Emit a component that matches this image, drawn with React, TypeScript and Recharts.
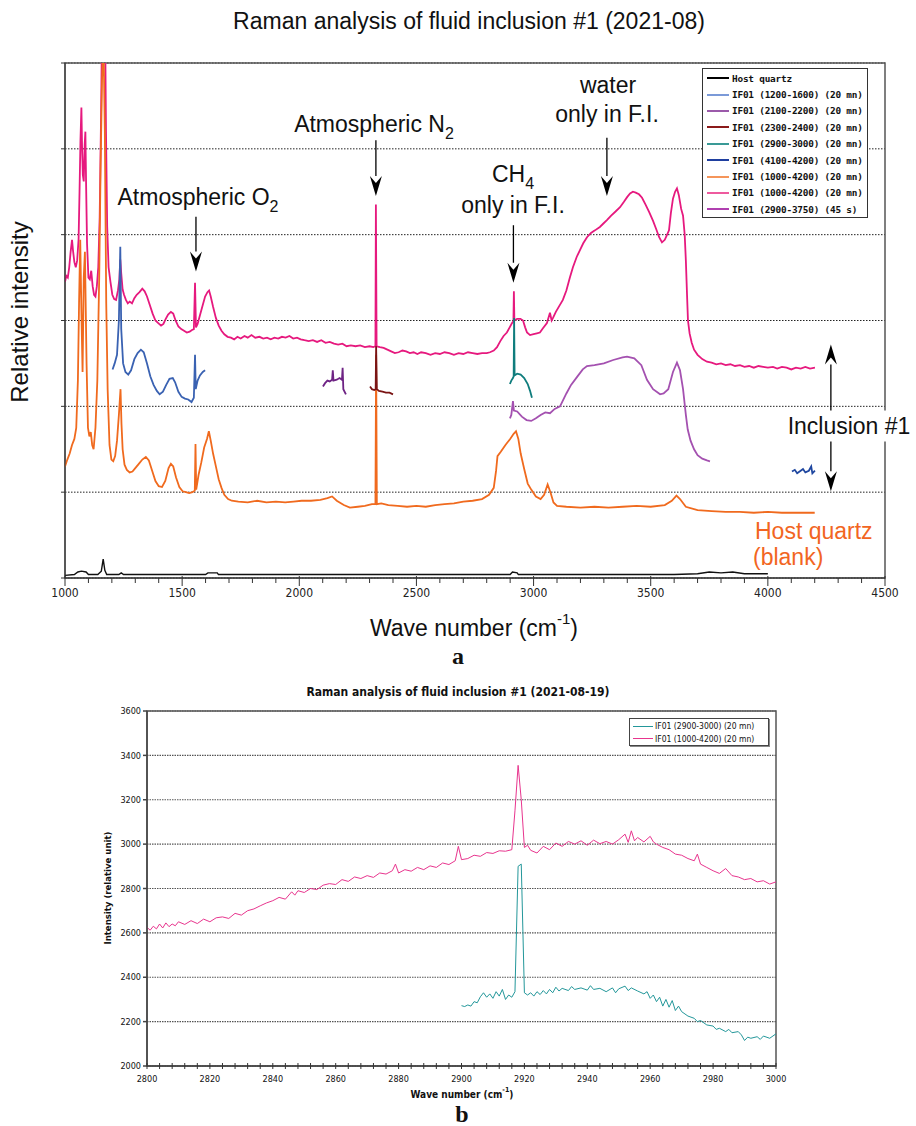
import React from 'react';
import { LineChart, Line, XAxis, YAxis, CartesianGrid, ReferenceLine, ReferenceArea } from 'recharts';

type P = [number, number];

// ---------- Chart a (relative intensity, arbitrary offset units) ----------
const hostQuartzA: P[] = [
  [1000, 0.03], [1040, 0.04], [1055, 0.07], [1070, 0.08], [1090, 0.07], [1100, 0.04], [1140, 0.04], [1155, 0.08],
  [1163, 0.22], [1170, 0.09], [1178, 0.04], [1230, 0.04], [1240, 0.06], [1250, 0.04], [1600, 0.04], [1610, 0.06],
  [1650, 0.06], [1655, 0.04], [2900, 0.04], [2910, 0.07], [2930, 0.06], [2935, 0.04], [3600, 0.04], [3700, 0.05],
  [3750, 0.07], [3800, 0.06], [3850, 0.07], [3900, 0.05], [4000, 0.05],
];

const if01_1200_1600: P[] = [
  [1203, 2.43], [1212, 2.5], [1222, 2.6], [1230, 3.0], [1236, 3.86], [1240, 2.9], [1248, 2.5], [1258, 2.4], [1270, 2.37],
  [1282, 2.42], [1296, 2.55], [1310, 2.62], [1324, 2.66], [1336, 2.63], [1350, 2.5], [1364, 2.35], [1378, 2.25],
  [1392, 2.18], [1404, 2.14], [1418, 2.17], [1432, 2.25], [1446, 2.32], [1460, 2.33], [1470, 2.28], [1484, 2.17],
  [1498, 2.11], [1512, 2.09], [1526, 2.08], [1540, 2.05], [1550, 2.1], [1555, 2.6], [1558, 2.2], [1566, 2.3],
  [1576, 2.36], [1588, 2.4], [1598, 2.42],
];

const if01_2100_2200: P[] = [
  [2101, 2.23], [2110, 2.27], [2120, 2.3], [2130, 2.29], [2140, 2.31], [2143, 2.42], [2146, 2.3], [2160, 2.31],
  [2172, 2.33], [2182, 2.31], [2185, 2.45], [2188, 2.2], [2199, 2.14],
];

const if01_2300_2400: P[] = [
  [2302, 2.23], [2310, 2.2], [2320, 2.19], [2326, 2.2], [2328, 2.7], [2331, 2.2], [2340, 2.18], [2355, 2.17],
  [2370, 2.16], [2385, 2.16], [2400, 2.14],
];

const if01_2900_3000: P[] = [
  [2899, 2.26], [2905, 2.3], [2912, 2.33], [2915, 2.35], [2917, 3.03], [2919, 2.36], [2930, 2.38], [2945, 2.37],
  [2960, 2.33], [2975, 2.26], [2985, 2.18], [2993, 2.1],
];

const if01_4100_4200: P[] = [
  [4103, 1.24], [4115, 1.26], [4125, 1.22], [4140, 1.25], [4150, 1.27], [4160, 1.23], [4175, 1.25], [4185, 1.3],
  [4190, 1.22], [4201, 1.25],
];

const hostBlankA: P[] = [
  [1000, 1.3], [1010, 1.38], [1020, 1.45], [1030, 1.55], [1040, 1.62], [1048, 1.75], [1055, 2.3], [1060, 3.2],
  [1065, 3.94], [1070, 3.1], [1075, 2.4], [1080, 3.5], [1085, 3.8], [1092, 2.5], [1098, 1.75], [1104, 1.65],
  [1110, 1.7], [1116, 1.55], [1122, 1.5], [1130, 1.75], [1138, 2.3], [1146, 3.5], [1152, 4.8], [1158, 5.8],
  [1164, 6.3], [1170, 5.2], [1176, 3.2], [1182, 2.2], [1190, 1.55], [1198, 1.38], [1206, 1.36], [1214, 1.42],
  [1222, 1.6], [1230, 1.9], [1237, 2.2], [1241, 1.8], [1246, 1.5], [1254, 1.32], [1264, 1.26], [1276, 1.23],
  [1288, 1.24], [1300, 1.28], [1315, 1.33], [1330, 1.38], [1345, 1.41], [1358, 1.37], [1372, 1.25], [1386, 1.13],
  [1400, 1.07], [1414, 1.06], [1428, 1.13], [1442, 1.28], [1452, 1.33], [1462, 1.3], [1474, 1.17], [1488, 1.06],
  [1502, 1.01], [1516, 1.0], [1530, 0.99], [1544, 1.0], [1554, 1.02], [1557, 1.56], [1560, 1.03], [1570, 1.2],
  [1582, 1.35], [1594, 1.52], [1606, 1.62], [1614, 1.71], [1622, 1.6], [1632, 1.45], [1644, 1.3], [1656, 1.15],
  [1668, 1.05], [1680, 0.97], [1696, 0.92], [1712, 0.9], [1740, 0.89], [1780, 0.88], [1820, 0.9], [1860, 0.88],
  [1900, 0.89], [1940, 0.88], [1975, 0.89], [2010, 0.9], [2050, 0.9], [2090, 0.91], [2120, 0.93], [2140, 0.95],
  [2160, 0.9], [2190, 0.85], [2216, 0.82], [2250, 0.83], [2280, 0.84], [2310, 0.86], [2325, 0.86], [2328, 2.6],
  [2331, 0.86], [2350, 0.87], [2380, 0.85], [2420, 0.84], [2460, 0.83], [2500, 0.84], [2540, 0.83], [2580, 0.85],
  [2620, 0.86], [2660, 0.87], [2700, 0.89], [2740, 0.9], [2780, 0.92], [2810, 0.97], [2830, 1.05], [2840, 1.25],
  [2846, 1.42], [2860, 1.47], [2880, 1.55], [2900, 1.62], [2915, 1.68], [2925, 1.71], [2935, 1.62], [2945, 1.45],
  [2960, 1.27], [2975, 1.1], [2990, 1.03], [3010, 0.95], [3030, 0.92], [3045, 0.97], [3060, 1.09], [3072, 1.0],
  [3085, 0.88], [3100, 0.84], [3140, 0.83], [3200, 0.82], [3260, 0.83], [3320, 0.82], [3380, 0.83], [3440, 0.84],
  [3500, 0.83], [3560, 0.85], [3590, 0.9], [3610, 0.96], [3625, 0.92], [3650, 0.83], [3700, 0.79], [3760, 0.78],
  [3820, 0.77], [3880, 0.77], [3940, 0.76], [4000, 0.77], [4060, 0.76], [4120, 0.76], [4200, 0.76],
];

const if01_1000_4200: P[] = [
  [1000, 3.45], [1006, 3.52], [1012, 3.5], [1018, 3.62], [1024, 3.8], [1030, 3.94], [1034, 3.82], [1040, 3.68],
  [1046, 3.62], [1052, 3.7], [1058, 3.95], [1062, 4.5], [1066, 5.1], [1070, 5.48], [1073, 5.0], [1076, 4.7],
  [1080, 4.62], [1084, 5.05], [1087, 5.2], [1090, 4.6], [1094, 3.9], [1100, 3.5], [1106, 3.48], [1112, 3.58],
  [1118, 3.4], [1124, 3.3], [1130, 3.28], [1136, 3.4], [1142, 3.62], [1148, 4.2], [1154, 5.4], [1158, 6.4],
  [1164, 7.5], [1170, 6.8], [1175, 5.2], [1180, 4.1], [1186, 3.62], [1194, 3.45], [1202, 3.3], [1210, 3.25],
  [1218, 3.24], [1226, 3.35], [1232, 3.48], [1236, 3.71], [1240, 3.55], [1246, 3.36], [1252, 3.3], [1260, 3.24],
  [1268, 3.2], [1276, 3.22], [1286, 3.2], [1296, 3.26], [1306, 3.3], [1318, 3.33], [1330, 3.37], [1340, 3.34],
  [1350, 3.28], [1362, 3.18], [1374, 3.08], [1386, 3.0], [1398, 2.97], [1410, 2.94], [1420, 2.96], [1430, 3.02],
  [1440, 3.07], [1452, 3.1], [1462, 3.08], [1472, 3.0], [1484, 2.93], [1496, 2.9], [1508, 2.88], [1520, 2.86],
  [1532, 2.87], [1542, 2.89], [1550, 2.9], [1555, 3.44], [1559, 2.92], [1566, 2.96], [1576, 3.06], [1588, 3.18],
  [1598, 3.28], [1608, 3.33], [1615, 3.35], [1622, 3.28], [1632, 3.16], [1644, 3.03], [1656, 2.94], [1668, 2.88],
  [1680, 2.84], [1694, 2.81], [1708, 2.8], [1722, 2.78], [1736, 2.81], [1750, 2.79], [1766, 2.82], [1780, 2.8],
  [1796, 2.83], [1812, 2.8], [1830, 2.81], [1846, 2.79], [1862, 2.8], [1878, 2.78], [1894, 2.8], [1910, 2.79],
  [1926, 2.81], [1942, 2.8], [1958, 2.82], [1974, 2.79], [1990, 2.8], [2006, 2.78], [2022, 2.77], [2040, 2.76],
  [2058, 2.77], [2076, 2.75], [2094, 2.77], [2112, 2.74], [2130, 2.75], [2148, 2.73], [2166, 2.72], [2184, 2.73],
  [2202, 2.7], [2220, 2.71], [2240, 2.7], [2260, 2.71], [2280, 2.69], [2300, 2.7], [2316, 2.69], [2325, 2.7],
  [2327, 4.35], [2330, 2.7], [2344, 2.69], [2360, 2.68], [2376, 2.66], [2392, 2.64], [2408, 2.62], [2424, 2.63],
  [2440, 2.65], [2456, 2.64], [2472, 2.62], [2488, 2.63], [2504, 2.61], [2520, 2.63], [2540, 2.62], [2560, 2.6],
  [2580, 2.62], [2600, 2.61], [2620, 2.63], [2640, 2.62], [2660, 2.6], [2680, 2.62], [2700, 2.61], [2720, 2.63],
  [2740, 2.62], [2760, 2.61], [2780, 2.62], [2800, 2.62], [2814, 2.63], [2830, 2.65], [2844, 2.69], [2858, 2.76],
  [2872, 2.82], [2886, 2.86], [2898, 2.92], [2908, 2.97], [2914, 2.99], [2916, 3.34], [2918, 3.0], [2930, 3.02],
  [2944, 3.02], [2955, 3.0], [2964, 2.92], [2972, 2.86], [2985, 2.83], [3000, 2.84], [3014, 2.85], [3027, 2.86],
  [3040, 2.91], [3057, 2.97], [3070, 3.09], [3077, 3.0], [3083, 3.03], [3095, 3.1], [3110, 3.17], [3125, 3.24],
  [3140, 3.35], [3155, 3.5], [3168, 3.62], [3184, 3.74], [3198, 3.82], [3212, 3.9], [3228, 3.97], [3245, 4.02],
  [3262, 4.05], [3283, 4.09], [3298, 4.13], [3313, 4.17], [3330, 4.22], [3350, 4.27], [3369, 4.32], [3385, 4.38],
  [3400, 4.44], [3412, 4.48], [3424, 4.5], [3436, 4.49], [3450, 4.47], [3463, 4.43], [3478, 4.35], [3494, 4.26],
  [3510, 4.16], [3524, 4.06], [3536, 3.97], [3548, 3.91], [3560, 3.94], [3570, 4.0], [3578, 4.05], [3586, 4.25],
  [3595, 4.42], [3604, 4.5], [3612, 4.54], [3620, 4.46], [3630, 4.3], [3638, 4.22], [3645, 4.0], [3650, 3.7],
  [3655, 3.3], [3659, 3.0], [3666, 2.85], [3675, 2.74], [3685, 2.66], [3700, 2.6], [3720, 2.55], [3740, 2.52],
  [3760, 2.51], [3780, 2.49], [3800, 2.5], [3820, 2.48], [3840, 2.49], [3860, 2.47], [3881, 2.48], [3900, 2.46],
  [3920, 2.47], [3940, 2.45], [3960, 2.47], [3980, 2.46], [4000, 2.45], [4022, 2.46], [4040, 2.44], [4060, 2.46],
  [4080, 2.45], [4100, 2.43], [4120, 2.45], [4140, 2.44], [4160, 2.46], [4180, 2.44], [4201, 2.45],
];

const if01_2900_3750: P[] = [
  [2899, 1.86], [2905, 1.9], [2912, 2.06], [2916, 1.95], [2930, 1.94], [2950, 1.88], [2970, 1.84], [2990, 1.83],
  [3010, 1.86], [3030, 1.9], [3050, 1.93], [3070, 1.92], [3090, 1.97], [3113, 2.0], [3140, 2.15], [3160, 2.25],
  [3185, 2.34], [3210, 2.43], [3228, 2.47], [3260, 2.48], [3300, 2.5], [3340, 2.54], [3380, 2.57], [3399, 2.58],
  [3430, 2.56], [3460, 2.48], [3484, 2.31], [3510, 2.2], [3540, 2.14], [3555, 2.15], [3575, 2.2], [3595, 2.4],
  [3612, 2.51], [3625, 2.42], [3638, 2.2], [3650, 1.9], [3658, 1.73], [3670, 1.6], [3685, 1.5], [3700, 1.43],
  [3720, 1.39], [3740, 1.37], [3753, 1.36],
];

const majorTicksA = [1000, 1500, 2000, 2500, 3000, 3500, 4000, 4500];
const gridA = [0, 1, 2, 3, 4, 5, 6];

// ---------- Chart b ----------
const if01_1000_4200_b: P[] = [
  [2800, 2625], [2801, 2612], [2802, 2630], [2803, 2618], [2804, 2640], [2805, 2622], [2806, 2645], [2807, 2628],
  [2808, 2640], [2809, 2632], [2810, 2650], [2812, 2638], [2814, 2655], [2816, 2642], [2818, 2662], [2820, 2650],
  [2822, 2668], [2824, 2672], [2826, 2665], [2828, 2688], [2830, 2680], [2832, 2700], [2834, 2708], [2836, 2722],
  [2838, 2735], [2840, 2745], [2842, 2760], [2844, 2752], [2846, 2785], [2847, 2770], [2848, 2790], [2850, 2782],
  [2852, 2800], [2854, 2795], [2856, 2815], [2858, 2822], [2860, 2818], [2862, 2840], [2864, 2832], [2866, 2852],
  [2868, 2845], [2870, 2858], [2872, 2850], [2874, 2870], [2876, 2865], [2878, 2880], [2879, 2910], [2880, 2870],
  [2882, 2885], [2884, 2878], [2886, 2895], [2888, 2885], [2890, 2902], [2892, 2895], [2894, 2915], [2896, 2908],
  [2898, 2925], [2899, 2990], [2900, 2930], [2902, 2935], [2904, 2950], [2906, 2945], [2908, 2962], [2910, 2958],
  [2912, 2970], [2914, 2968], [2916, 2975], [2917, 3150], [2918, 3355], [2919, 3200], [2920, 2985], [2921, 2995],
  [2922, 2972], [2924, 2960], [2926, 2990], [2928, 2975], [2930, 3005], [2932, 2990], [2934, 3012], [2936, 3000],
  [2938, 3015], [2940, 2995], [2942, 3018], [2944, 3002], [2946, 3012], [2948, 3000], [2950, 3020], [2952, 3045],
  [2953, 3008], [2954, 3060], [2955, 3015], [2956, 3030], [2958, 3010], [2960, 3035], [2961, 3010], [2962, 3000],
  [2964, 2985], [2966, 2975], [2968, 2955], [2970, 2950], [2972, 2935], [2974, 2925], [2975, 2955], [2976, 2910],
  [2978, 2895], [2980, 2880], [2982, 2868], [2984, 2890], [2986, 2858], [2988, 2852], [2990, 2840], [2992, 2845],
  [2994, 2830], [2996, 2835], [2998, 2820], [3000, 2830],
];

const if01_2900_3000_b: P[] = [
  [2900, 2272], [2901, 2268], [2902, 2275], [2903, 2270], [2904, 2290], [2905, 2285], [2906, 2312], [2907, 2330],
  [2908, 2310], [2909, 2325], [2910, 2305], [2911, 2335], [2912, 2315], [2913, 2345], [2914, 2300], [2915, 2320],
  [2916, 2310], [2917, 2335], [2918, 2900], [2919, 2910], [2920, 2330], [2921, 2320], [2922, 2330], [2923, 2315],
  [2924, 2335], [2925, 2322], [2926, 2340], [2927, 2325], [2928, 2345], [2929, 2330], [2930, 2355], [2931, 2338],
  [2932, 2350], [2934, 2340], [2935, 2358], [2936, 2345], [2938, 2352], [2940, 2342], [2941, 2362], [2942, 2345],
  [2944, 2350], [2946, 2335], [2948, 2352], [2949, 2330], [2950, 2348], [2952, 2360], [2953, 2340], [2954, 2352],
  [2956, 2338], [2958, 2325], [2959, 2335], [2960, 2305], [2961, 2320], [2962, 2290], [2963, 2310], [2964, 2270],
  [2965, 2300], [2966, 2265], [2967, 2295], [2968, 2250], [2969, 2270], [2970, 2245], [2972, 2225], [2974, 2215],
  [2975, 2200], [2976, 2205], [2978, 2185], [2980, 2180], [2981, 2165], [2982, 2170], [2984, 2155], [2985, 2165],
  [2986, 2150], [2988, 2155], [2989, 2140], [2990, 2115], [2991, 2130], [2992, 2125], [2994, 2132], [2995, 2120],
  [2996, 2135], [2998, 2125], [3000, 2145],
];

const yTicksB = [2000, 2200, 2400, 2600, 2800, 3000, 3200, 3400, 3600];
const xLabelTicksB = [2800, 2820, 2840, 2860, 2880, 2900, 2920, 2940, 2960, 2980, 3000];

// ---------- helpers ----------
const rows = (a: P[]) => a.map(([x, y]) => ({ x, y }));
const SANS = '"Liberation Sans", Arial, sans-serif';
const COND = '"DejaVu Sans Condensed", "DejaVu Sans", sans-serif';
const NARROW = '"Liberation Sans Narrow", "DejaVu Sans Condensed", sans-serif';
const MONO = '"DejaVu Sans Mono", monospace';

const minorTicksA: number[] = [];
for (let v = 1000; v <= 4500; v += 100) minorTicksA.push(v);
const minorTicksB: number[] = [];
for (let v = 2800; v <= 3000; v += 4) minorTicksB.push(v);

const seriesA = [
  { name: 'Host quartz', data: hostQuartzA, color: '#111111', w: 1.4 },
  { name: 'IF01 (1000-4200) (20 mn)', data: if01_1000_4200, color: '#e6197e', w: 1.8 },
  { name: 'IF01 (1000-4200) (20 mn)', data: hostBlankA, color: '#f06a1e', w: 1.8 },
  { name: 'IF01 (1200-1600) (20 mn)', data: if01_1200_1600, color: '#3a62b2', w: 1.8 },
  { name: 'IF01 (2100-2200) (20 mn)', data: if01_2100_2200, color: '#6e2384', w: 1.8 },
  { name: 'IF01 (2300-2400) (20 mn)', data: if01_2300_2400, color: '#7a1414', w: 1.8 },
  { name: 'IF01 (2900-3000) (20 mn)', data: if01_2900_3000, color: '#0f7d7d', w: 1.8 },
  { name: 'IF01 (4100-4200) (20 mn)', data: if01_4100_4200, color: '#1f47a0', w: 1.8 },
  { name: 'IF01 (2900-3750) (45 s)', data: if01_2900_3750, color: '#a451b0', w: 1.8 },
];

const legendA = [
  { label: 'Host quartz', color: '#000000' },
  { label: 'IF01 (1200-1600) (20 mn)', color: '#7b9ad8' },
  { label: 'IF01 (2100-2200) (20 mn)', color: '#9b5aaa' },
  { label: 'IF01 (2300-2400) (20 mn)', color: '#8b1a1a' },
  { label: 'IF01 (2900-3000) (20 mn)', color: '#3a9a96' },
  { label: 'IF01 (4100-4200) (20 mn)', color: '#1f3f9f' },
  { label: 'IF01 (1000-4200) (20 mn)', color: '#f5955a' },
  { label: 'IF01 (1000-4200) (20 mn)', color: '#ee5a9e' },
  { label: 'IF01 (2900-3750) (45 s)', color: '#b040b0' },
];

const legendB = [
  { label: 'IF01 (2900-3000) (20 mn)', color: '#23979a' },
  { label: 'IF01 (1000-4200) (20 mn)', color: '#e8358e' },
];

// annotation arrows [wave number, from, to] in chart a units
const arrowsA: [number, number, number][] = [
  [1559, 4.21, 3.57],
  [2327, 5.1, 4.45],
  [2914, 4.11, 3.44],
  [3313, 5.13, 4.45],
  [4269, 1.94, 2.72],
  [4269, 1.73, 1.01],
];

const arrowShape = (props: any) => {
  const { x1, y1, x2, y2 } = props;
  const dir = y2 > y1 ? 1 : -1;
  const hl = 20, hw = 6, notch = 7;
  return (
    <g>
      <line x1={x1} y1={y1} x2={x2} y2={y2 - dir * hl} stroke="#000" strokeWidth={1.3} />
      <path
        d={`M${x2},${y2} L${x2 - hw},${y2 - dir * hl} L${x2},${y2 - dir * (hl - notch)} L${x2 + hw},${y2 - dir * hl} Z`}
        fill="#000"
      />
    </g>
  );
};

const TickA = (props: any) => {
  const { x, y, payload } = props;
  const v = payload.value;
  const major = majorTicksA.includes(v);
  return (
    <g>
      <line x1={x} x2={x} y1={major ? y - 2 : y} y2={major ? y + 8 : y + 5} stroke="#333" strokeWidth={1} />
      {major && (
        <text x={x} y={y + 19} textAnchor="middle" fontSize={12} fontFamily={NARROW} fill="#222">
          {v}
        </text>
      )}
    </g>
  );
};

const TickB = (props: any) => {
  const { x, y, payload } = props;
  const v = payload.value;
  const major = xLabelTicksB.includes(v);
  return (
    <g>
      <line x1={x} x2={x} y1={y - 3} y2={y + 3} stroke="#333" strokeWidth={1} />
      {major && (
        <text x={x} y={y + 16} textAnchor="middle" fontSize={9} fontFamily={COND} fill="#111">
          {v}
        </text>
      )}
    </g>
  );
};

const T = ({ x, y, children, style }: { x: number; y: number; children: React.ReactNode; style?: React.CSSProperties }) => (
  <div
    style={{
      position: 'absolute',
      left: x,
      top: y,
      transform: 'translate(-50%, -50%)',
      whiteSpace: 'nowrap',
      fontFamily: SANS,
      fontSize: 23,
      color: '#111',
      lineHeight: 1,
      ...style,
    }}
  >
    {children}
  </div>
);

const sub: React.CSSProperties = { fontSize: 16, verticalAlign: 'baseline', position: 'relative', top: 7 };

export default function App() {
  return (
    <div style={{ position: 'absolute', left: 0, top: 0, width: 916, height: 1126, background: '#fff', overflow: 'hidden' }}>
      {/* ---------------- Chart a ---------------- */}
      <div style={{ position: 'absolute', left: 0, top: 0 }}>
        <LineChart width={916} height={660} margin={{ top: 63, right: 31, bottom: 52, left: 55 }}>
          <CartesianGrid horizontal vertical={false} stroke="#222" strokeDasharray="1.5 1.5" />
          <XAxis
            dataKey="x"
            type="number"
            domain={[1000, 4500]}
            ticks={minorTicksA}
            interval={0}
            tickSize={0}
            tickMargin={0}
            tickLine={false}
            tick={<TickA />}
            height={30}
            stroke="#333"
            allowDataOverflow
          />
          <YAxis
            type="number"
            domain={[0, 6]}
            ticks={gridA}
            allowDataOverflow
            width={10}
            tickSize={4}
            tickFormatter={() => ''}
            stroke="#333"
          />
          <ReferenceArea x1={1000} x2={4500} y1={0} y2={6} fill="none" stroke="#555" strokeWidth={1.5} />
          {seriesA.map((s, i) => (
            <Line
              key={i}
              data={rows(s.data)}
              dataKey="y"
              type="linear"
              stroke={s.color}
              strokeWidth={s.w}
              dot={false}
              activeDot={false}
              isAnimationActive={false}
            />
          ))}
          {arrowsA.map(([x, a, b], i) => (
            <ReferenceLine
              key={'ar' + i}
              segment={[{ x, y: a }, { x, y: b }]}
              shape={arrowShape}
              ifOverflow="visible"
            />
          ))}
        </LineChart>
      </div>

      {/* legend a */}
      <div
        style={{
          position: 'absolute',
          left: 702,
          top: 68,
          width: 166,
          height: 150,
          border: '1.5px solid #333',
          background: '#fff',
          boxSizing: 'border-box',
          paddingTop: 1,
        }}
      >
        {legendA.map((l, i) => (
          <div key={i} style={{ display: 'flex', alignItems: 'center', height: 16.4 }}>
            <div style={{ width: 22, height: 0, borderTop: `2px solid ${l.color}`, marginLeft: 4, marginRight: 3 }} />
            <span style={{ fontFamily: MONO, fontSize: 9.4, fontWeight: 'bold', color: '#111', letterSpacing: -0.2 }}>{l.label}</span>
          </div>
        ))}
      </div>

      {/* titles & annotations a */}
      <T x={469} y={21}>Raman analysis of fluid inclusion #1 (2021-08)</T>
      <div
        style={{
          position: 'absolute',
          left: 20,
          top: 312,
          transform: 'translate(-50%, -50%) rotate(-90deg)',
          whiteSpace: 'nowrap',
          fontFamily: SANS,
          fontSize: 24,
          color: '#111',
          lineHeight: 1,
        }}
      >
        Relative intensity
      </div>
      <T x={474} y={628} style={{ lineHeight: 0.9 }}>
        Wave number (cm<sup style={{ fontSize: 15, lineHeight: 0, position: 'relative', top: -3 }}>-1</sup>)
      </T>
      <T x={458} y={657} style={{ fontFamily: '"Liberation Serif", serif', fontWeight: 'bold', fontSize: 24, lineHeight: 0.8 }}>a</T>

      <T x={198} y={197}>Atmospheric O<span style={sub}>2</span></T>
      <T x={374} y={124}>Atmospheric N<span style={sub}>2</span></T>
      <T x={513} y={174}>CH<span style={sub}>4</span></T>
      <T x={513} y={205}>only in F.I.</T>
      <T x={608} y={85}>water</T>
      <T x={607} y={114}>only in F.I.</T>
      <T x={849} y={426} style={{ background: '#fff', padding: '4px 0' }}>Inclusion #1</T>
      <div style={{ position: 'absolute', left: 755, top: 520, fontFamily: SANS, fontSize: 23, color: '#f26522', lineHeight: 1, whiteSpace: 'nowrap' }}>
        Host quartz
      </div>
      <div style={{ position: 'absolute', left: 753, top: 546, fontFamily: SANS, fontSize: 23, color: '#f26522', lineHeight: 1, whiteSpace: 'nowrap' }}>
        (blank)
      </div>

      {/* ---------------- Chart b ---------------- */}
      <div style={{ position: 'absolute', left: 0, top: 680 }}>
        <LineChart width={916} height={440} margin={{ top: 31, right: 140, bottom: 34, left: 107 }}>
          <CartesianGrid horizontal vertical={false} stroke="#555" strokeDasharray="1.5 1" strokeWidth={1.2} />
          <XAxis
            dataKey="x"
            type="number"
            domain={[2800, 3000]}
            ticks={minorTicksB}
            interval={0}
            tickSize={0}
            tickMargin={0}
            tickLine={false}
            tick={<TickB />}
            height={20}
            stroke="#444"
            strokeWidth={1.5}
          />
          <YAxis
            type="number"
            domain={[2000, 3600]}
            ticks={yTicksB}
            interval={0}
            width={40}
            tickSize={4}
            tickMargin={2}
            stroke="#444"
            strokeWidth={1.5}
            tick={{ fontSize: 9, fontFamily: COND, fill: '#111' }}
          />
          <ReferenceArea x1={2800} x2={3000} y1={2000} y2={3600} fill="none" stroke="#555" strokeWidth={1.5} />
          <Line
            data={rows(if01_2900_3000_b)}
            dataKey="y"
            type="linear"
            stroke="#23979a"
            strokeWidth={1}
            dot={false}
            activeDot={false}
            isAnimationActive={false}
          />
          <Line
            data={rows(if01_1000_4200_b)}
            dataKey="y"
            type="linear"
            stroke="#e8358e"
            strokeWidth={1}
            dot={false}
            activeDot={false}
            isAnimationActive={false}
          />
        </LineChart>
      </div>

      {/* legend b */}
      <div
        style={{
          position: 'absolute',
          left: 629,
          top: 718,
          width: 140,
          height: 28,
          border: '1px solid #444',
          boxShadow: '1px 1px 0 #888',
          background: '#fff',
          boxSizing: 'border-box',
          paddingTop: 1,
        }}
      >
        {legendB.map((l, i) => (
          <div key={i} style={{ display: 'flex', alignItems: 'center', height: 12.5 }}>
            <div style={{ width: 20, height: 0, borderTop: `1.5px solid ${l.color}`, marginLeft: 3, marginRight: 2 }} />
            <span style={{ fontFamily: COND, fontSize: 8.5, color: '#111' }}>{l.label}</span>
          </div>
        ))}
      </div>

      <T x={458} y={692} style={{ fontFamily: COND, fontWeight: 'bold', fontSize: 12 }}>
        Raman analysis of fluid inclusion #1 (2021-08-19)
      </T>
      <div
        style={{
          position: 'absolute',
          left: 108,
          top: 888,
          transform: 'translate(-50%, -50%) rotate(-90deg)',
          whiteSpace: 'nowrap',
          fontFamily: COND,
          fontWeight: 'bold',
          fontSize: 9.5,
          color: '#111',
          lineHeight: 1,
        }}
      >
        Intensity (relative unit)
      </div>
      <T x={462} y={1094} style={{ fontFamily: COND, fontWeight: 'bold', fontSize: 10 }}>
        Wave number (cm<sup style={{ fontSize: 7, position: 'relative', top: -1 }}>-1</sup>)
      </T>
      <T x={462} y={1114} style={{ fontFamily: '"Liberation Serif", serif', fontWeight: 'bold', fontSize: 24 }}>b</T>
    </div>
  );
}
